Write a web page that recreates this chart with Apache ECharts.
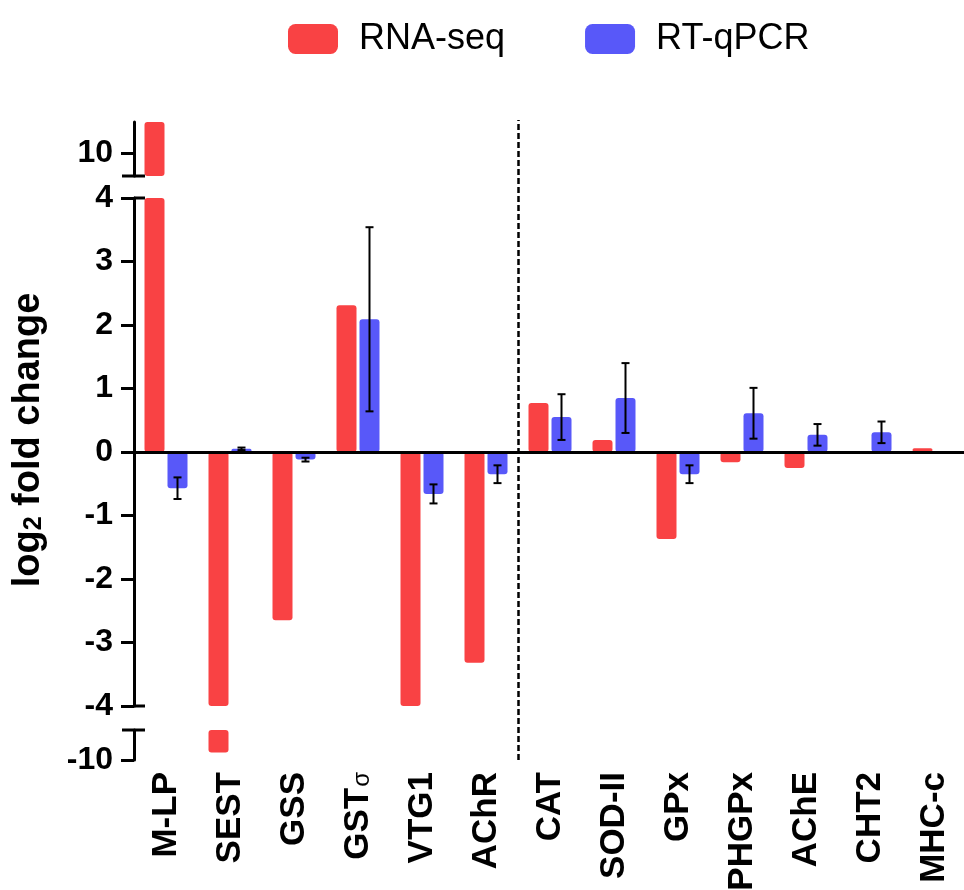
<!DOCTYPE html>
<html><head><meta charset="utf-8">
<script src="https://cdn.jsdelivr.net/npm/echarts@6/dist/echarts.min.js"></script>
<style>html,body{margin:0;padding:0;background:#fff}#c{width:964px;height:890px}</style>
</head><body><div id="c"></div>
<script>
// ---- data ----
const categories = ['M-LP','SEST','GSS','GSTσ','VTG1','AChR','CAT','SOD-II','GPx','PHGPx','AChE','CHT2','MHC-c'];
const rnaSeq  = [11, -9.75, -2.65, 2.31, -4, -3.32, 0.77, 0.19, -1.37, -0.16, -0.25, 0, 0.06];
const rtqPCR  = [-0.57, 0.05, -0.12, 2.09, -0.66, -0.35, 0.55, 0.85, -0.35, 0.61, 0.27, 0.31, 0];
const rtqPCRErr = [0.17, 0.02, 0.03, 1.45, 0.15, 0.14, 0.36, 0.55, 0.14, 0.40, 0.17, 0.17, 0];
const topTicks = [10];
const bottomTicks = [-10];
const mainMin = -4, mainMax = 4, mainInterval = 1;
const topMin = 9.25, topMax = 11;
const bottomMin = -10, bottomMax = -9;
const dividerPos = 6; // boundary between AChR and CAT (in category-band units)

// ---- style ----
const RED = '#F94244', BLUE = '#5858F9';
const FONT = 'Liberation Sans, Arial, sans-serif';
const GRID_LEFT = 134, GRID_W = 832;
const BAR_W = 20, BAR_GAP_PX = 3;

const chart = echarts.init(document.getElementById('c'), null, {renderer: 'canvas'});

const grids = [
  {left: GRID_LEFT, width: GRID_W, top: 122, height: 54, outerBoundsMode: 'none', containLabel: false},
  {left: GRID_LEFT, width: GRID_W, top: 198, height: 508, outerBoundsMode: 'none', containLabel: false},
  {left: GRID_LEFT, width: GRID_W, top: 730, height: 30, outerBoundsMode: 'none', containLabel: false},
  {left: GRID_LEFT, width: GRID_W, top: 120, height: 640, outerBoundsMode: 'none', containLabel: false}
];

function baseX(i) {
  return {type: 'category', gridIndex: i, data: categories, boundaryGap: true,
    axisLine: {show: false}, axisTick: {show: false}, axisLabel: {show: false}, splitLine: {show: false}};
}
const xAxes = [0,1,2].map(baseX);
xAxes[1].axisLine = {show: true, onZero: true, lineStyle: {color: '#000', width: 3}};
xAxes[1].z = 5;
xAxes[2].axisLabel = {
  show: true, rotate: 90, interval: 0, margin: 12,
  formatter: v => v.indexOf('σ') >= 0 ? '{b|' + v.replace('σ','') + '}{s|σ}' : '{b|' + v + '}',
  rich: {
    b: {fontSize: 35, fontWeight: 'bold', color: '#000', fontFamily: FONT},
    s: {fontSize: 24, fontWeight: 'normal', color: '#000', fontFamily: FONT, padding: [8, 0, 0, 1]}
  }
};
xAxes.push({type: 'value', gridIndex: 3, min: 0, max: categories.length, show: false});

const yLabel = {show: true, fontSize: 32, fontWeight: 'bold', color: '#000', fontFamily: FONT, margin: 21};
const yLine = {show: true, lineStyle: {color: '#000', width: 3}};
const yTick = {show: true, length: 13, lineStyle: {color: '#000', width: 3}};
const yAxes = [
  {type: 'value', gridIndex: 0, min: topMin, max: topMax, axisLine: yLine,
    axisTick: Object.assign({customValues: topTicks}, yTick),
    axisLabel: Object.assign({customValues: topTicks}, yLabel), splitLine: {show: false}},
  {type: 'value', gridIndex: 1, min: mainMin, max: mainMax, interval: mainInterval, axisLine: yLine,
    axisTick: yTick, axisLabel: yLabel, splitLine: {show: false}},
  {type: 'value', gridIndex: 2, min: bottomMin, max: bottomMax, axisLine: yLine,
    axisTick: Object.assign({customValues: bottomTicks}, yTick),
    axisLabel: Object.assign({customValues: bottomTicks}, yLabel), splitLine: {show: false}},
  {type: 'value', gridIndex: 3, min: 0, max: 1, axisLine: {show: false}, axisTick: {show: false},
    axisLabel: {show: false}, splitLine: {show: false},
    name: '{a|log}{s|2}{a| fold change}', nameLocation: 'middle', nameRotate: 90, nameGap: 86,
    nameTextStyle: {rich: {
      a: {fontSize: 38, fontWeight: 'bold', color: '#000', fontFamily: FONT},
      s: {fontSize: 25, fontWeight: 'bold', color: '#000', fontFamily: FONT, padding: [10, 0, 0, 0]}
    }}}
];

const series = [];
[0,1,2].forEach(g => {
  series.push({name: 'RNA-seq', type: 'bar', xAxisIndex: g, yAxisIndex: g, data: rnaSeq,
    barWidth: BAR_W, barGap: (BAR_GAP_PX / BAR_W * 100) + '%', clip: true,
    itemStyle: {color: RED, borderRadius: 3}});
  series.push({name: 'RT-qPCR', type: 'bar', xAxisIndex: g, yAxisIndex: g, data: rtqPCR,
    barWidth: BAR_W, barGap: (BAR_GAP_PX / BAR_W * 100) + '%', clip: true,
    itemStyle: {color: BLUE, borderRadius: 3}});
});
const errData = [];
rtqPCR.forEach((v, i) => { if (rtqPCRErr[i] > 0) errData.push([i, v, rtqPCRErr[i]]); });
series.push({
  name: 'err', type: 'custom', xAxisIndex: 1, yAxisIndex: 1, z: 10, data: errData,
  renderItem: (params, api) => {
    const i = api.value(0), m = api.value(1), e = api.value(2);
    const hi = api.coord([i, m + e]), lo = api.coord([i, m - e]);
    const cx = hi[0] + (BAR_W + BAR_GAP_PX) / 2;
    const cap = 4;
    const st = {stroke: '#000', lineWidth: 2};
    return {type: 'group', children: [
      {type: 'line', shape: {x1: cx, y1: hi[1], x2: cx, y2: lo[1]}, style: st},
      {type: 'line', shape: {x1: cx - cap, y1: hi[1], x2: cx + cap, y2: hi[1]}, style: st},
      {type: 'line', shape: {x1: cx - cap, y1: lo[1], x2: cx + cap, y2: lo[1]}, style: st}
    ]};
  }
});
// divider line between the two gene groups
series.push({
  name: 'divider', type: 'line', xAxisIndex: 3, yAxisIndex: 3, data: [], silent: true,
  markLine: {symbol: 'none', silent: true, label: {show: false},
    lineStyle: {color: '#000', width: 2.5, type: [6, 3]},
    data: [{xAxis: dividerPos}]}
});

chart.setOption({
  animation: false,
  backgroundColor: '#fff',
  legend: {data: ['RNA-seq', 'RT-qPCR'], left: 283, top: 16, itemWidth: 50, itemHeight: 30, itemGap: 80,
    icon: 'roundRect', textStyle: {fontSize: 36, color: '#000', fontFamily: FONT, padding: [0, 0, 0, 16]}},
  grid: grids, xAxis: xAxes, yAxis: yAxes, series: series
});

// axis-break caps
const yPix = (idx, v) => chart.convertToPixel({yAxisIndex: idx}, v);
const caps = [
  [GRID_LEFT - 12, GRID_LEFT + 11, yPix(0, topMin)],
  [GRID_LEFT, GRID_LEFT + 11, yPix(1, mainMax)],
  [GRID_LEFT, GRID_LEFT + 11, yPix(1, mainMin)],
  [GRID_LEFT - 12, GRID_LEFT + 11, yPix(2, bottomMax)]
];
chart.setOption({graphic: caps.map(c => ({type: 'line', z: 20,
  shape: {x1: c[0], y1: c[2], x2: c[1], y2: c[2]}, style: {stroke: '#000', lineWidth: 3}}))});
</script></body></html>
